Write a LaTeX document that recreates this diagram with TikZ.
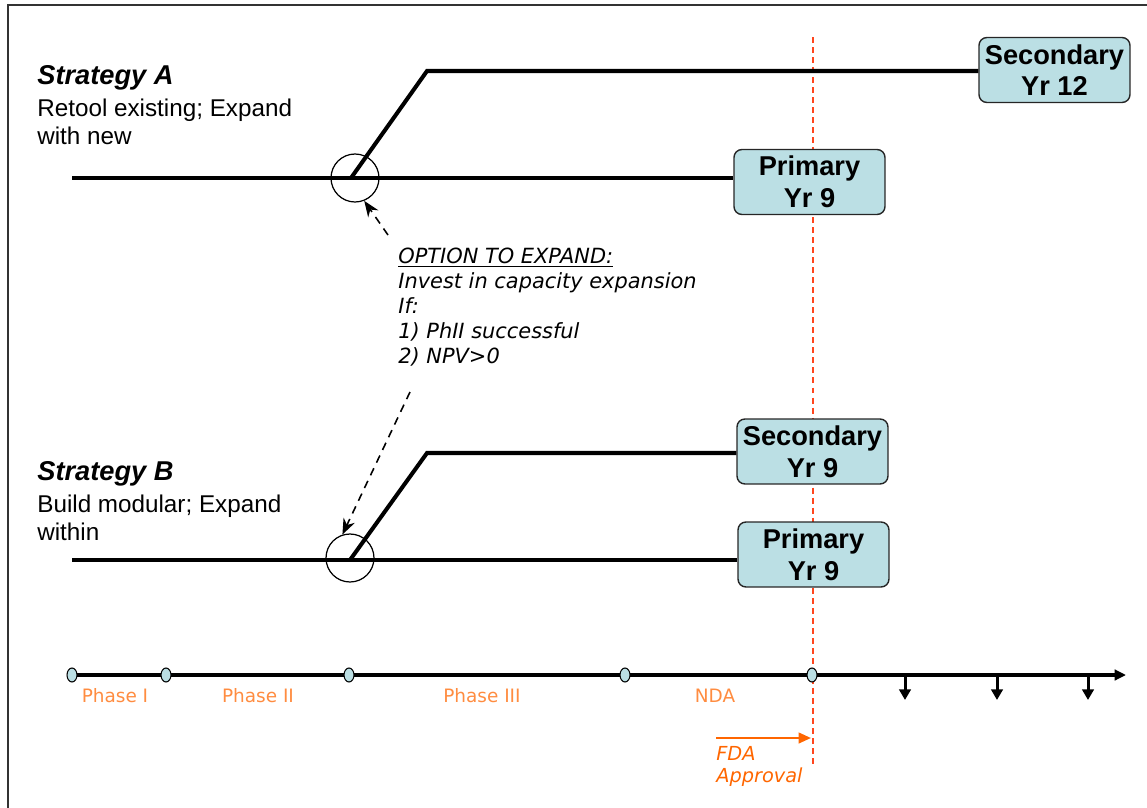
\documentclass[tikz,border=0pt]{standalone}
\usepackage{fontspec}
\setmainfont{Liberation Sans}
\newfontfamily\verdana{DejaVu Sans}
\usetikzlibrary{arrows.meta, positioning, shapes.geometric}
\definecolor{stageBlue}{RGB}{187, 223, 228}
\definecolor{phaseOrange}{RGB}{255, 140, 64}
\definecolor{fdaOrange}{RGB}{255, 102, 0}
\definecolor{approvalRed}{RGB}{255, 70, 30}

\begin{document}
\begin{tikzpicture}[
        x=0.02cm, y=-0.02cm,
        stage/.style={rectangle, rounded corners=4.5pt, draw=black!85, fill=stageBlue, line width=0.8pt, minimum width=3.02cm, minimum height=1.3cm, inner sep=0pt, align=center, font=\fontsize{15.5}{18}\selectfont\bfseries},
        route/.style={line width=2.3pt},
        ring/.style={circle, draw, line width=0.7pt, minimum size=0.96cm, inner sep=0pt},
        hint/.style={-{Stealth[length=9pt, width=7pt]}, line width=0.9pt, dash pattern=on 4.5pt off 3.5pt},
        stratname/.style={inner sep=0pt, anchor=base west, font=\fontsize{15.5}{18}\selectfont\bfseries\itshape},
        stratdesc/.style={inner sep=0pt, align=left, font=\fontsize{13.8}{16}\selectfont},
        milestone/.style={ellipse, draw, fill=stageBlue, line width=0.6pt, minimum width=0.2cm, minimum height=0.28cm, inner sep=0pt},
        phase/.style={inner sep=0pt, text=phaseOrange, font=\verdana\fontsize{10.5}{12}\selectfont},
        cashflow/.style={-{Triangle[length=6pt, width=6.5pt]}, line width=1.7pt}
    ]
        \useasboundingbox (0,0) rectangle (1147,808);
        \draw[line width=0.6pt, black!80] (8,808) -- (8,5) -- (1147,5);

        % FDA approval line (behind the boxes)
        \coordinate (v0) at (813,37);
        \coordinate (v1) at (813,765);
        \draw[approvalRed, line width=0.75pt, dash pattern=on 3.4pt off 2.3pt] (v0) -- (v1);

        % Strategy A
        \node[stratname] (sa) at (37,84) {Strategy A};
        \node[stratdesc, below=5pt of sa.south west, anchor=north west] (sad) {Retool existing; Expand\\with new};
        \node[stage] (primA) at (809.5,182) {Primary\\Yr 9};
        \node[stage] (secA) at (1054.5,70) {Secondary\\Yr 12};
        \coordinate (a0) at (72,178);
        \coordinate (aJ) at (351,178);
        \coordinate (a2) at (427,71);
        \draw[route] (a0) -- (a0 -| primA.west);
        \draw[route] (aJ) -- (a2) -- (a2 -| secA.west);
        \node[ring] (ringA) at (355,178) {};

        % Strategy B
        \node[stratname] (sb) at (37,480) {Strategy B};
        \node[stratdesc, below=5pt of sb.south west, anchor=north west] (sbd) {Build modular; Expand\\within};
        \node[stage] (secB) at (812.5,451.5) {Secondary\\Yr 9};
        \node[stage] (primB) at (813.5,554.5) {Primary\\Yr 9};
        \coordinate (b0) at (72,560);
        \coordinate (bJ) at (350,560);
        \coordinate (b2) at (427,453);
        \draw[route] (b0) -- (b0 -| primB.west);
        \draw[route] (bJ) -- (b2) -- (b2 -| secB.west);
        \node[ring] (ringB) at (350,558) {};

        % Option to expand
        \node[inner sep=0pt, anchor=north west, align=left, font=\verdana\itshape\fontsize{11.9}{14.2}\selectfont] (opt) at (398,248)
            {\underline{OPTION TO EXPAND:}\\Invest in capacity expansion\\If:\\1) PhII successful\\2) NPV>0};
        \coordinate (optA) at (388,235);
        \coordinate (optB) at (410,392);
        \draw[hint] (optA) -- (ringA.-68);
        \draw[hint] (optB) -- (ringB.108);

        % Timeline
        \coordinate (t0) at (72,675);
        \coordinate (t1) at (1126,675);
        \draw[line width=2.3pt, -{Triangle[length=6.5pt, width=6pt]}] (t0) -- (t1);
        \foreach \x/\n in {72/m0, 166/m1, 349/m2, 625/m3, 812/m4}
            \node[milestone] (\n) at (\x,675) {};
        \foreach \x in {905, 997, 1088}
            \draw[cashflow] (\x,675) -- (\x,700);

        \node[phase] (ph1) at (115,696) {Phase I};
        \node[phase] (ph2) at (258,696) {Phase II};
        \node[phase] (ph3) at (482,696) {Phase III};
        \node[phase] (nda) at (715,696) {NDA};

        % FDA approval
        \coordinate (fdaS) at (716,738);
        \coordinate (fdaE) at (811,738);
        \draw[fdaOrange, line width=1.3pt, -{Triangle[length=7pt, width=6pt]}] (fdaS) -- (fdaE);
        \node[inner sep=0pt, anchor=north west, align=left, text=fdaOrange, font=\verdana\itshape\fontsize{11}{12.5}\selectfont] (fda) at (716,746) {FDA\\Approval};
    \end{tikzpicture}
\end{document}
